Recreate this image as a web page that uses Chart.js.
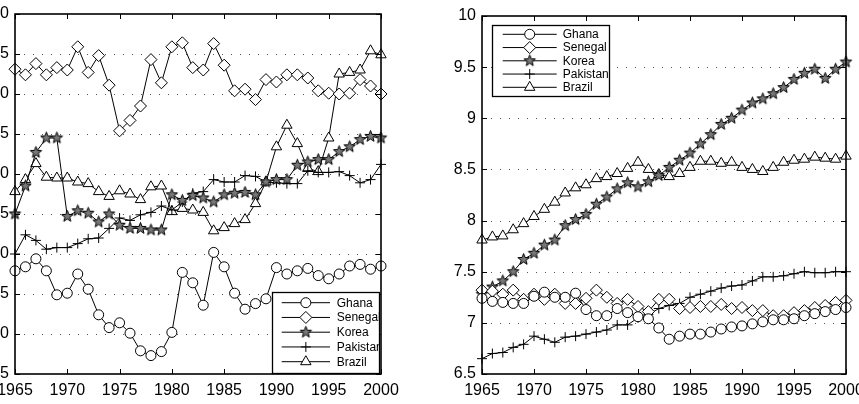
<!DOCTYPE html>
<html>
<head>
<meta charset="utf-8">
<script src="https://cdn.jsdelivr.net/npm/chart.js@4.4.0/dist/chart.umd.min.js"></script>
<style>
  html, body { margin: 0; padding: 0; background: #fff; overflow: hidden; width: 859px; height: 404px; }
  .panel { position: absolute; top: 0; height: 404px; }
  #wrapL { left: -40px; width: 470px; }
  #wrapR { left: 430px; width: 429px; }
</style>
</head>
<body>
<div class="panel" id="wrapL"><canvas id="left" width="470" height="404"></canvas></div>
<div class="panel" id="wrapR"><canvas id="right" width="429" height="404"></canvas></div>
<script>
/* ── Data ─────────────────────────────────────────────── */
const YEARS = [1965, 1966, 1967, 1968, 1969, 1970, 1971, 1972, 1973, 1974, 1975, 1976,
               1977, 1978, 1979, 1980, 1981, 1982, 1983, 1984, 1985, 1986, 1987, 1988,
               1989, 1990, 1991, 1992, 1993, 1994, 1995, 1996, 1997, 1998, 1999, 2000];
const COUNTRIES = ["Ghana", "Senegal", "Korea", "Pakistan", "Brazil"];

// left panel
const ghanaL    = [17.9, 18.4, 19.4, 17.9, 14.9, 15.1, 17.5, 15.6, 12.4, 10.8, 11.4, 10.1, 7.9, 7.3, 7.8, 10.2, 17.7, 16.4, 13.6, 20.2, 18.4, 15.1, 13.1, 13.8, 14.4, 18.3, 17.5, 17.9, 18.2, 17.3, 16.9, 17.5, 18.5, 18.7, 18.1, 18.5];
const senegalL  = [43.1, 42.4, 43.8, 42.4, 43.3, 43.0, 45.9, 42.7, 44.8, 41.1, 35.4, 36.7, 38.5, 44.3, 41.4, 45.9, 46.4, 43.3, 43.0, 46.3, 43.6, 40.4, 40.6, 39.3, 41.8, 41.5, 42.4, 42.4, 42.0, 40.4, 40.1, 40.0, 40.1, 41.8, 41.0, 40.0];
const koreaL    = [25.0, 28.5, 32.7, 34.5, 34.5, 24.7, 25.4, 25.1, 24.0, 25.0, 23.6, 23.2, 23.2, 23.0, 23.0, 27.4, 26.7, 27.3, 27.0, 26.5, 27.4, 27.6, 27.7, 27.4, 29.0, 29.3, 29.3, 31.1, 31.5, 31.8, 31.8, 32.8, 33.4, 34.3, 34.7, 34.5];
const pakistanL = [20.0, 22.4, 21.7, 20.6, 20.8, 20.8, 21.3, 21.9, 22.0, 23.2, 24.5, 24.2, 24.9, 25.2, 26.0, 25.5, 26.5, 27.6, 27.8, 29.3, 29.0, 29.0, 29.8, 29.7, 29.0, 28.9, 28.8, 28.8, 30.4, 30.2, 30.2, 30.3, 29.8, 28.9, 29.3, 31.2];
const brazilL   = [27.8, 29.3, 31.3, 29.6, 29.5, 29.5, 29.0, 28.8, 27.8, 27.2, 27.9, 27.5, 26.8, 28.4, 28.5, 25.3, 25.7, 25.5, 25.2, 22.9, 23.3, 23.8, 24.3, 26.3, 29.0, 33.4, 36.1, 33.8, 30.7, 30.3, 34.5, 42.5, 42.7, 43.0, 45.4, 44.9];

// right panel
const ghanaR    = [7.24, 7.21, 7.20, 7.19, 7.19, 7.26, 7.30, 7.25, 7.25, 7.29, 7.13, 7.07, 7.07, 7.14, 7.10, 7.06, 7.04, 6.95, 6.84, 6.87, 6.89, 6.89, 6.91, 6.94, 6.96, 6.97, 6.99, 7.01, 7.03, 7.03, 7.04, 7.07, 7.09, 7.11, 7.13, 7.15];
const senegalR  = [7.32, 7.31, 7.28, 7.32, 7.23, 7.28, 7.23, 7.28, 7.19, 7.19, 7.24, 7.32, 7.25, 7.19, 7.23, 7.16, 7.11, 7.23, 7.23, 7.14, 7.15, 7.16, 7.16, 7.18, 7.14, 7.15, 7.12, 7.12, 7.07, 7.07, 7.10, 7.12, 7.15, 7.17, 7.20, 7.22];
const koreaR    = [7.28, 7.35, 7.41, 7.50, 7.62, 7.68, 7.76, 7.81, 7.95, 8.01, 8.06, 8.16, 8.23, 8.31, 8.37, 8.33, 8.38, 8.44, 8.52, 8.59, 8.66, 8.75, 8.84, 8.94, 9.00, 9.08, 9.15, 9.19, 9.24, 9.30, 9.38, 9.44, 9.48, 9.39, 9.48, 9.55];
const pakistanR = [6.65, 6.70, 6.71, 6.76, 6.79, 6.87, 6.84, 6.81, 6.86, 6.87, 6.89, 6.91, 6.93, 6.98, 6.98, 7.05, 7.08, 7.14, 7.17, 7.19, 7.25, 7.28, 7.31, 7.34, 7.36, 7.37, 7.41, 7.45, 7.45, 7.46, 7.48, 7.50, 7.49, 7.49, 7.50, 7.50];
const brazilR   = [7.81, 7.84, 7.85, 7.91, 7.97, 8.04, 8.11, 8.18, 8.27, 8.32, 8.35, 8.41, 8.43, 8.46, 8.51, 8.57, 8.50, 8.45, 8.43, 8.46, 8.52, 8.58, 8.58, 8.56, 8.57, 8.52, 8.50, 8.48, 8.52, 8.57, 8.59, 8.60, 8.62, 8.61, 8.60, 8.63];

/* ── Markers ──────────────────────────────────────────── */
function pentagram(r) {
  const c = document.createElement("canvas");
  const s = Math.ceil(r * 2 + 3);
  c.width = c.height = s;
  const g = c.getContext("2d");
  g.beginPath();
  for (let k = 0; k < 10; k++) {
    const rr  = k % 2 ? r * 0.42 : r;
    const ang = -Math.PI / 2 + k * Math.PI / 5;
    const px  = s / 2 + rr * Math.cos(ang), py = s / 2 + rr * Math.sin(ang);
    k ? g.lineTo(px, py) : g.moveTo(px, py);
  }
  g.closePath();
  g.fillStyle = "#777"; g.fill();
  g.strokeStyle = "#000"; g.lineWidth = 1; g.stroke();
  return c;
}
const STAR = pentagram(6);

const MARK = {
  Ghana:    { pointStyle: "circle",   radius: 5 },
  Senegal:  { pointStyle: "rectRot",  radius: 6 },
  Korea:    { pointStyle: STAR,       radius: 6 },
  Pakistan: { pointStyle: "cross",    radius: 5 },
  Brazil:   { pointStyle: "triangle", radius: 6 },
};

const FONT = "'Liberation Sans', Arial, Helvetica, sans-serif";

/* ── Frame, dotted grid, inward ticks, boxed legend ───── */
const matlabAxes = {
  id: "matlabAxes",
  beforeDatasetsDraw(chart) {
    const { ctx, chartArea: a, scales: { y } } = chart;
    ctx.save();
    ctx.strokeStyle = "#555";
    ctx.lineWidth = 1;
    ctx.setLineDash([1, 8]);
    y.ticks.forEach(t => {
      if (t.value <= y.min || t.value >= y.max) return;
      const py = Math.round(y.getPixelForValue(t.value)) + 0.5;
      ctx.beginPath(); ctx.moveTo(a.left, py); ctx.lineTo(a.right, py); ctx.stroke();
    });
    ctx.restore();
  },
  afterDatasetsDraw(chart, args, opts) {
    const { ctx, chartArea: a, scales: { x, y } } = chart;
    const L = Math.round(a.left), R = Math.round(a.right);
    const T = Math.round(a.top),  B = Math.round(a.bottom);
    ctx.save();
    ctx.strokeStyle = "#000";
    ctx.lineWidth = 1.6;
    ctx.strokeRect(L, T, R - L, B - T);
    ctx.lineWidth = 1;
    ctx.beginPath();
    x.ticks.forEach(t => {
      const px = Math.round(x.getPixelForValue(t.value)) + 0.5;
      ctx.moveTo(px, B); ctx.lineTo(px, B - 5);
      ctx.moveTo(px, T); ctx.lineTo(px, T + 5);
    });
    y.ticks.forEach(t => {
      const py = Math.round(y.getPixelForValue(t.value)) + 0.5;
      ctx.moveTo(L, py); ctx.lineTo(L + 5, py);
      ctx.moveTo(R, py); ctx.lineTo(R - 5, py);
    });
    ctx.stroke();

    // legend box
    const lg = opts.box;
    ctx.fillStyle = "#fff";
    ctx.fillRect(lg.left, lg.top, lg.right - lg.left, lg.bottom - lg.top);
    ctx.lineWidth = 1.3;
    ctx.strokeRect(lg.left + 0.5, lg.top + 0.5, lg.right - lg.left, lg.bottom - lg.top);
    ctx.lineWidth = 1;
    chart.data.datasets.forEach((ds, i) => {
      const ry = lg.row0 + i * lg.rowH;
      ctx.strokeStyle = "#000";
      ctx.beginPath(); ctx.moveTo(lg.lineX0, ry); ctx.lineTo(lg.lineX1, ry); ctx.stroke();
      ctx.fillStyle = "#fff";
      const m = MARK[ds.label];
      Chart.helpers.drawPoint(ctx, { pointStyle: m.pointStyle, radius: m.radius, rotation: 0, borderWidth: 1 },
                              (lg.lineX0 + lg.lineX1) / 2, ry);
      ctx.save();
      ctx.beginPath(); ctx.rect(lg.left, lg.top, lg.right - lg.left, lg.bottom - lg.top); ctx.clip();
      ctx.fillStyle = "#000";
      ctx.font = "12px " + FONT;
      ctx.textBaseline = "middle";
      ctx.fillText(ds.label, lg.textX, ry + 0.5);
      ctx.restore();
    });
    ctx.restore();
  },
};

/* ── Chart builder ────────────────────────────────────── */
function makeChart(id, series, yMin, yMax, yStep, yAxisW, pad, box) {
  const datasets = COUNTRIES.map((name, i) => ({
    label: name,
    data: YEARS.map((yr, j) => ({ x: yr, y: series[i][j] })),
    borderColor: "#000",
    borderWidth: 1,
    pointStyle: MARK[name].pointStyle,
    pointRadius: MARK[name].radius,
    pointBorderColor: "#000",
    pointBackgroundColor: "#fff",
    pointBorderWidth: 1,
    tension: 0,
    clip: false,
  }));
  const fitY = s => { s.width = yAxisW; s.paddingTop = s.paddingBottom = 0; };
  const fitX = s => { s.height = 30; s.paddingLeft = s.paddingRight = 0; };
  return new Chart(document.getElementById(id), {
    type: "line",
    data: { datasets },
    options: {
      responsive: false,
      animation: false,
      layout: { padding: pad },
      plugins: { legend: { display: false }, tooltip: { enabled: false }, matlabAxes: { box } },
      scales: {
        x: {
          type: "linear", min: 1965, max: 2000,
          grid: { display: false, drawTicks: false }, border: { display: false },
          ticks: { stepSize: 5, padding: 7, color: "#000", font: { family: FONT, size: 16 },
                   maxRotation: 0, autoSkip: false, callback: v => String(v) },
          afterFit: fitX,
        },
        y: {
          min: yMin, max: yMax,
          grid: { display: false, drawTicks: false }, border: { display: false },
          ticks: { stepSize: yStep, padding: 6, color: "#000", font: { family: FONT, size: 16 },
                   callback: v => String(v) },
          afterFit: fitY,
        },
      },
    },
    plugins: [matlabAxes],
  });
}

makeChart("left", [ghanaL, senegalL, koreaL, pakistanL, brazilL], 5, 50, 5, 55,
  { left: 0, right: 49, top: 14, bottom: 0 },
  { left: 312, top: 292, right: 419, bottom: 373, row0: 302.7, rowH: 14.75,
    lineX0: 321.7, lineX1: 370, textX: 376.7 });

makeChart("right", [ghanaR, senegalR, koreaR, pakistanR, brazilR], 6.5, 10, 0.5, 52,
  { left: 0, right: 13, top: 16, bottom: 0 },
  { left: 62, top: 25, right: 179, bottom: 96, row0: 34.3, rowH: 13.25,
    lineX0: 72.7, lineX1: 126.7, textX: 132.7 });
</script>
</body>
</html>
